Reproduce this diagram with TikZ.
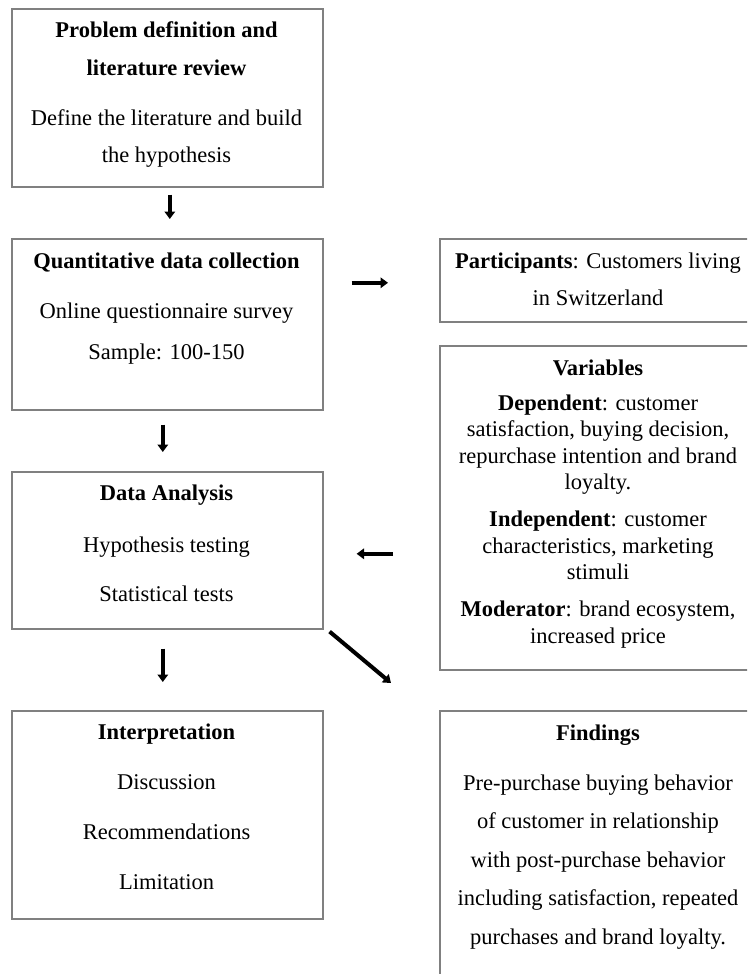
\documentclass[tikz,border=0pt]{standalone}
\usepackage{fontspec}
\setmainfont{Liberation Serif}
\usetikzlibrary{arrows.meta,calc}
\definecolor{boxgray}{HTML}{808080}
\begin{document}
\begin{tikzpicture}[x=1pt,y=-1pt,
  frame/.style={draw=boxgray, line width=1.6pt, inner sep=0pt, anchor=north west},
  % texts are placed by the baseline of their last line
  txt/.style={anchor=base, align=center, inner sep=0pt, font=\fontsize{22.5}{#1}\selectfont},
  txt/.default=26.5,
  flow/.style={line width=4pt, -{Triangle[width=10.5pt,length=7.5pt]}}]
\clip (0,0) rectangle (747,974);

% left column of stages
\node[frame, minimum width=311pt, minimum height=178pt] (b1) at (11,8) {};
\node[frame, minimum width=311pt, minimum height=171pt] (b2) at (11,238) {};
\node[frame, minimum width=311pt, minimum height=157pt] (b3) at (11,471) {};
\node[frame, minimum width=311pt, minimum height=208pt] (b4) at (11,710) {};

% right column of details
\node[frame, minimum width=318pt, minimum height=83pt] (rp) at (439,238) {};
\node[frame, minimum width=318pt, minimum height=324pt] (rv) at (439,345) {};
\node[frame, minimum width=318pt, minimum height=300pt] (rf) at (439,710) {};

% texts of the left column
\node[txt=38] (t1) at (166.5,75) {\bfseries Problem definition and\\\bfseries literature review};
\node[txt=37] (d1) at (166.5,162) {Define the literature and build\\the hypothesis};
\node[txt] (t2) at (166.5,268) {\bfseries Quantitative data collection};
\node[txt=41] (d2) at (166.5,359) {Online questionnaire survey\\Sample: 100-150};
\node[txt] (t3) at (166.5,500) {\bfseries Data Analysis};
\node[txt=49] (d3) at (166.5,601) {Hypothesis testing\\Statistical tests};
\node[txt] (t4) at (166.5,739) {\bfseries Interpretation};
\node[txt=50] (d4) at (166.5,889) {Discussion\\Recommendations\\Limitation};

% texts of the right column
\node[txt=37] (tp) at (598,305) {\textbf{Participants}: Customers living\\in Switzerland};
\node[txt] (tv) at (598,375) {\bfseries Variables};
\node[txt=26.5] (dv) at (598,643) {\textbf{Dependent}: customer\\satisfaction, buying decision,\\repurchase intention and brand\\loyalty.\\[10.5pt]
  \textbf{Independent}: customer\\characteristics, marketing\\stimuli\\[10.5pt]
  \textbf{Moderator}: brand ecosystem,\\increased price};
\node[txt] (tf) at (598,740) {\bfseries Findings};
\node[txt=38.5] (df) at (598,944) {Pre-purchase buying behavior\\of customer in relationship\\with post-purchase behavior\\including satisfaction, repeated\\purchases and brand loyalty.};

% connectors
\draw[flow, shorten <=7pt, shorten >=19pt] ([xshift=2.5pt]b1.south) -- ([xshift=2.5pt]b2.north);
\draw[flow, shorten <=14pt, shorten >=19pt] ([xshift=-4.5pt]b2.south) -- ([xshift=-4.5pt]b3.north);
\draw[flow, shorten <=19pt, shorten >=28pt] ([xshift=-4.5pt]b3.south) -- ([xshift=-4.5pt]b4.north);
\draw[flow, shorten <=28pt, shorten >=51pt] ([yshift=-2.5pt]b2.east |- rp.west) -- ([yshift=-2.5pt]rp.west);
\draw[flow, shorten <=46pt, shorten >=33pt] ([yshift=-3.5pt]rv.west |- b3.east) -- ([yshift=-3.5pt]b3.east);
\draw[flow] ([shift={(6,2)}]b3.south east) -- ([shift={(-48,-27)}]rf.north west);
\end{tikzpicture}
\end{document}
